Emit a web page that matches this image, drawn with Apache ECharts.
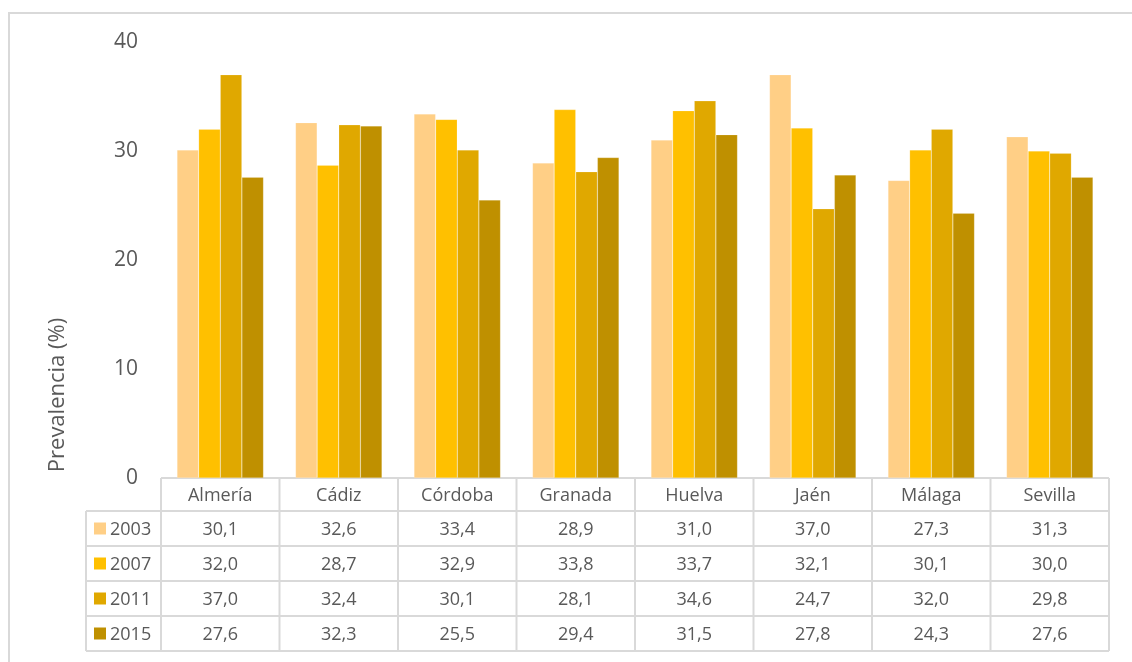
<!DOCTYPE html>
<html>
<head>
<meta charset="utf-8">
<script src="https://cdn.jsdelivr.net/npm/echarts@6/dist/echarts.min.js"></script>
<style>
html,body{margin:0;padding:0;background:#fff;}
#main{width:1132px;height:662px;}
</style>
</head>
<body>
<div id="main"></div>
<script>
var categories = ['Almería','Cádiz','Córdoba','Granada','Huelva','Jaén','Málaga','Sevilla'];
var seriesNames = ['2003','2007','2011','2015'];
var v2003 = [30.1,32.6,33.4,28.9,31.0,37.0,27.3,31.3];
var v2007 = [32.0,28.7,32.9,33.8,33.7,32.1,30.1,30.0];
var v2011 = [37.0,32.4,30.1,28.1,34.6,24.7,32.0,29.8];
var v2015 = [27.6,32.3,25.5,29.4,31.5,27.8,24.3,27.6];
var yTicks = [0,10,20,30,40];
var colors = ['#FFCF86','#FFC000','#E0A800','#BF9000'];
var allValues = [v2003,v2007,v2011,v2015];

var FONT = '"Open Sans", sans-serif';
var TXT = '#595959';
var LINE = '#D9D9D9';

var W = 1132, H = 662;
var gridLeft = 161, gridRight = 23, gridTop = 42, gridBottom = 184;
var plotW = W - gridLeft - gridRight;
var colW = plotW / categories.length;
var headerTop = H - gridBottom;   // 478
var headerH = 33, rowH = 35;
var leftColX = 86;

function fmt(v){ return v.toFixed(1).replace('.', ','); }

var chart = echarts.init(document.getElementById('main'), null, {renderer:'canvas'});

var graphics = [];
// outer border
graphics.push({type:'rect', shape:{x:9,y:13,width:1200,height:700}, style:{fill:'none',stroke:LINE,lineWidth:2}, silent:true, z:0});
// y axis title
graphics.push({type:'text', x:58, y:395, rotation:Math.PI/2, style:{text:'Prevalencia (%)', font:'22px ' + FONT, fill:TXT, textAlign:'center', textVerticalAlign:'middle'}});

var tableBottom = headerTop + headerH + rowH * seriesNames.length;
var right = gridLeft + plotW;
// horizontal lines
graphics.push({type:'line', shape:{x1:gridLeft,y1:headerTop,x2:right,y2:headerTop}, style:{stroke:LINE,lineWidth:2}});
for (var r = 0; r <= seriesNames.length; r++) {
  var yy = headerTop + headerH + r*rowH;
  graphics.push({type:'line', shape:{x1:leftColX,y1:yy,x2:right,y2:yy}, style:{stroke:LINE,lineWidth:2}});
}
// vertical lines
graphics.push({type:'line', shape:{x1:leftColX,y1:headerTop+headerH,x2:leftColX,y2:tableBottom}, style:{stroke:LINE,lineWidth:2}});
for (var c = 0; c <= categories.length; c++) {
  var xx = gridLeft + c*colW;
  graphics.push({type:'line', shape:{x1:xx,y1:headerTop,x2:xx,y2:tableBottom}, style:{stroke:LINE,lineWidth:2}});
}
// header texts
categories.forEach(function(cat, i){
  graphics.push({type:'text', x:gridLeft + (i+0.5)*colW, y:headerTop + headerH/2 + 1, style:{text:cat, font:'18px ' + FONT, fill:TXT, textAlign:'center', textVerticalAlign:'middle'}});
});
// rows
seriesNames.forEach(function(name, r){
  var cy = headerTop + headerH + r*rowH + rowH/2 + 1;
  graphics.push({type:'rect', shape:{x:94, y:cy-7, width:12, height:12}, style:{fill:colors[r]}});
  graphics.push({type:'text', x:110, y:cy, style:{text:name, font:'18px ' + FONT, fill:TXT, textAlign:'left', textVerticalAlign:'middle'}});
  allValues[r].forEach(function(v, i){
    graphics.push({type:'text', x:gridLeft + (i+0.5)*colW, y:cy, style:{text:fmt(v), font:'18px ' + FONT, fill:TXT, textAlign:'center', textVerticalAlign:'middle'}});
  });
});

var option = {
  animation:false,
  backgroundColor:'#fff',
  grid:{left:gridLeft, right:gridRight, top:gridTop, bottom:gridBottom, containLabel:false},
  xAxis:{type:'category', data:categories, axisLine:{show:false}, axisTick:{show:false}, axisLabel:{show:false}},
  yAxis:{type:'value', min:yTicks[0], max:yTicks[yTicks.length-1], interval:10,
    axisLine:{show:false}, axisTick:{show:false}, splitLine:{show:false},
    axisLabel:{color:TXT, fontSize:21, fontFamily:FONT, margin:23}},
  series: seriesNames.map(function(n, i){
    return {name:n, type:'bar', data:allValues[i], barGap:'0%', barCategoryGap:'27%',
      itemStyle:{color:colors[i], borderColor:'rgba(255,255,255,0.35)', borderWidth:0.5}};
  }),
  graphic: graphics
};
chart.setOption(option);
</script>
</body>
</html>
